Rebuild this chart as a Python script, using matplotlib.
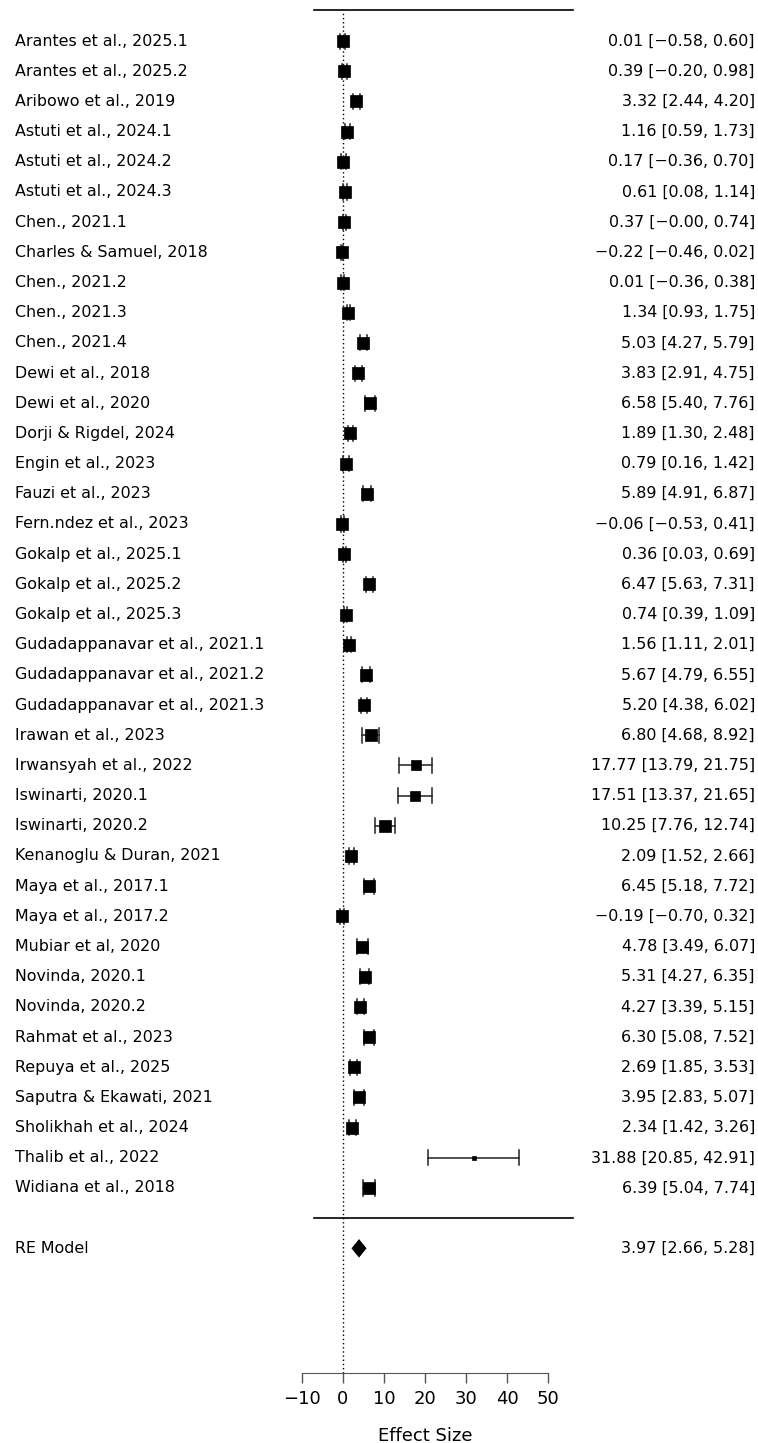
import numpy as np
import matplotlib.pyplot as plt
import matplotlib.transforms as mtransforms
from matplotlib.patches import Polygon

# study data (effect size and 95% CI)
studies = [
    "Arantes et al., 2025.1", "Arantes et al., 2025.2", "Aribowo et al., 2019",
    "Astuti et al., 2024.1", "Astuti et al., 2024.2", "Astuti et al., 2024.3",
    "Chen., 2021.1", "Charles & Samuel, 2018", "Chen., 2021.2", "Chen., 2021.3",
    "Chen., 2021.4", "Dewi et al., 2018", "Dewi et al., 2020", "Dorji & Rigdel, 2024",
    "Engin et al., 2023", "Fauzi et al., 2023", "Fern.ndez et al., 2023",
    "Gokalp et al., 2025.1", "Gokalp et al., 2025.2", "Gokalp et al., 2025.3",
    "Gudadappanavar et al., 2021.1", "Gudadappanavar et al., 2021.2",
    "Gudadappanavar et al., 2021.3", "Irawan et al., 2023", "Irwansyah et al., 2022",
    "Iswinarti, 2020.1", "Iswinarti, 2020.2", "Kenanoglu & Duran, 2021",
    "Maya et al., 2017.1", "Maya et al., 2017.2", "Mubiar et al, 2020",
    "Novinda, 2020.1", "Novinda, 2020.2", "Rahmat et al., 2023", "Repuya et al., 2025",
    "Saputra & Ekawati, 2021", "Sholikhah et al., 2024", "Thalib et al., 2022",
    "Widiana et al., 2018",
]
est = [0.01, 0.39, 3.32, 1.16, 0.17, 0.61, 0.37, -0.22, 0.01, 1.34,
       5.03, 3.83, 6.58, 1.89, 0.79, 5.89, -0.06, 0.36, 6.47, 0.74,
       1.56, 5.67, 5.20, 6.80, 17.77, 17.51, 10.25, 2.09, 6.45, -0.19,
       4.78, 5.31, 4.27, 6.30, 2.69, 3.95, 2.34, 31.88, 6.39]
lower = [-0.58, -0.20, 2.44, 0.59, -0.36, 0.08, -0.00, -0.46, -0.36, 0.93,
         4.27, 2.91, 5.40, 1.30, 0.16, 4.91, -0.53, 0.03, 5.63, 0.39,
         1.11, 4.79, 4.38, 4.68, 13.79, 13.37, 7.76, 1.52, 5.18, -0.70,
         3.49, 4.27, 3.39, 5.08, 1.85, 2.83, 1.42, 20.85, 5.04]
upper = [0.60, 0.98, 4.20, 1.73, 0.70, 1.14, 0.74, 0.02, 0.38, 1.75,
         5.79, 4.75, 7.76, 2.48, 1.42, 6.87, 0.41, 0.69, 7.31, 1.09,
         2.01, 6.55, 6.02, 8.92, 21.75, 21.65, 12.74, 2.66, 7.72, 0.32,
         6.07, 6.35, 5.15, 7.52, 3.53, 5.07, 3.26, 42.91, 7.74]
re_est, re_lower, re_upper = 3.97, 2.66, 5.28
tau2 = 17.0  # rough between-study variance, used only for square sizes
xticks = [-10, 0, 10, 20, 30, 40, 50]

est = np.array(est)
lower = np.array(lower)
upper = np.array(upper)
k = len(studies)
rows = np.arange(k, 0, -1)

# random-effects weights -> square size (metafor style, range 0.5..1.5)
vi = ((upper - lower) / (2 * 1.96)) ** 2
wi = 1.0 / (vi + tau2)
psize = 0.5 + (wi - wi.min()) / (wi.max() - wi.min())

def fmt(v):
    return f"{v:.2f}".replace("-", "\u2212")

plt.rcParams['font.family'] = ['DejaVu Sans']
fs = 11.4

fig = plt.figure(figsize=(7.58, 14.43), dpi=100)
H = 1443
ax = fig.add_axes([0, 70 / H, 1, 1373 / H])
ax.set_xlim(-83.32, 100.97)
ax.set_ylim(-5.13, 40.36)

# reference line at zero
ax.plot([0, 0], [-5.13, k + 1], color='black', lw=1, ls=(0, (1, 2)), zorder=1)

# header / summary separator lines
ax.plot([-6.98, 56.0], [k + 1.03, k + 1.03], color='black', lw=1.2)
ax.plot([-6.98, 56.0], [0, 0], color='black', lw=1.2)

# CIs with end caps
cap = 0.25
for r, lo, hi in zip(rows, lower, upper):
    ax.plot([lo, hi], [r, r], color='#222222', lw=1.1, zorder=2)
    ax.plot([lo, lo], [r - cap, r + cap], color='#222222', lw=1.1, zorder=2)
    ax.plot([hi, hi], [r - cap, r + cap], color='#222222', lw=1.1, zorder=2)

for r, e, s in zip(rows, est, psize):
    ax.plot(e, r, marker='s', color='black', markersize=6.2 * s, zorder=3, mec='black', mew=0.5)

# summary diamond
dh = 0.22
ax.add_patch(Polygon([[re_lower, -1], [re_est, -1 + dh], [re_upper, -1], [re_est, -1 - dh]],
                     closed=True, facecolor='black', edgecolor='black', lw=2.4, zorder=3))

# labels left and right
for r, name, e, lo, hi in zip(rows, studies, est, lower, upper):
    ax.text(-79.67, r, name, ha='left', va='center', fontsize=fs)
    ax.text(100.24, r, f"{fmt(e)} [{fmt(lo)}, {fmt(hi)}]", ha='right', va='center', fontsize=fs)
ax.text(-79.67, -1, "RE Model", ha='left', va='center', fontsize=fs)
ax.text(100.24, -1, f"{fmt(re_est)} [{fmt(re_lower)}, {fmt(re_upper)}]",
        ha='right', va='center', fontsize=fs)

# x axis
for side in ['top', 'right', 'left']:
    ax.spines[side].set_visible(False)
ax.spines['bottom'].set_bounds(-10, 50)
ax.spines['bottom'].set_color('#555555')
ax.set_yticks([])
ax.set_xticks(xticks)
ax.set_xticklabels([fmt(t).replace(".00", "") for t in xticks])
ax.tick_params(axis='x', length=7, width=1, color='#555555', labelsize=13, pad=5)

trans = mtransforms.blended_transform_factory(ax.transData, fig.transFigure)
ax.text(20, 7 / H, "Effect Size", transform=trans, ha='center', va='center', fontsize=13)

fig.savefig('out.png', dpi=100)
